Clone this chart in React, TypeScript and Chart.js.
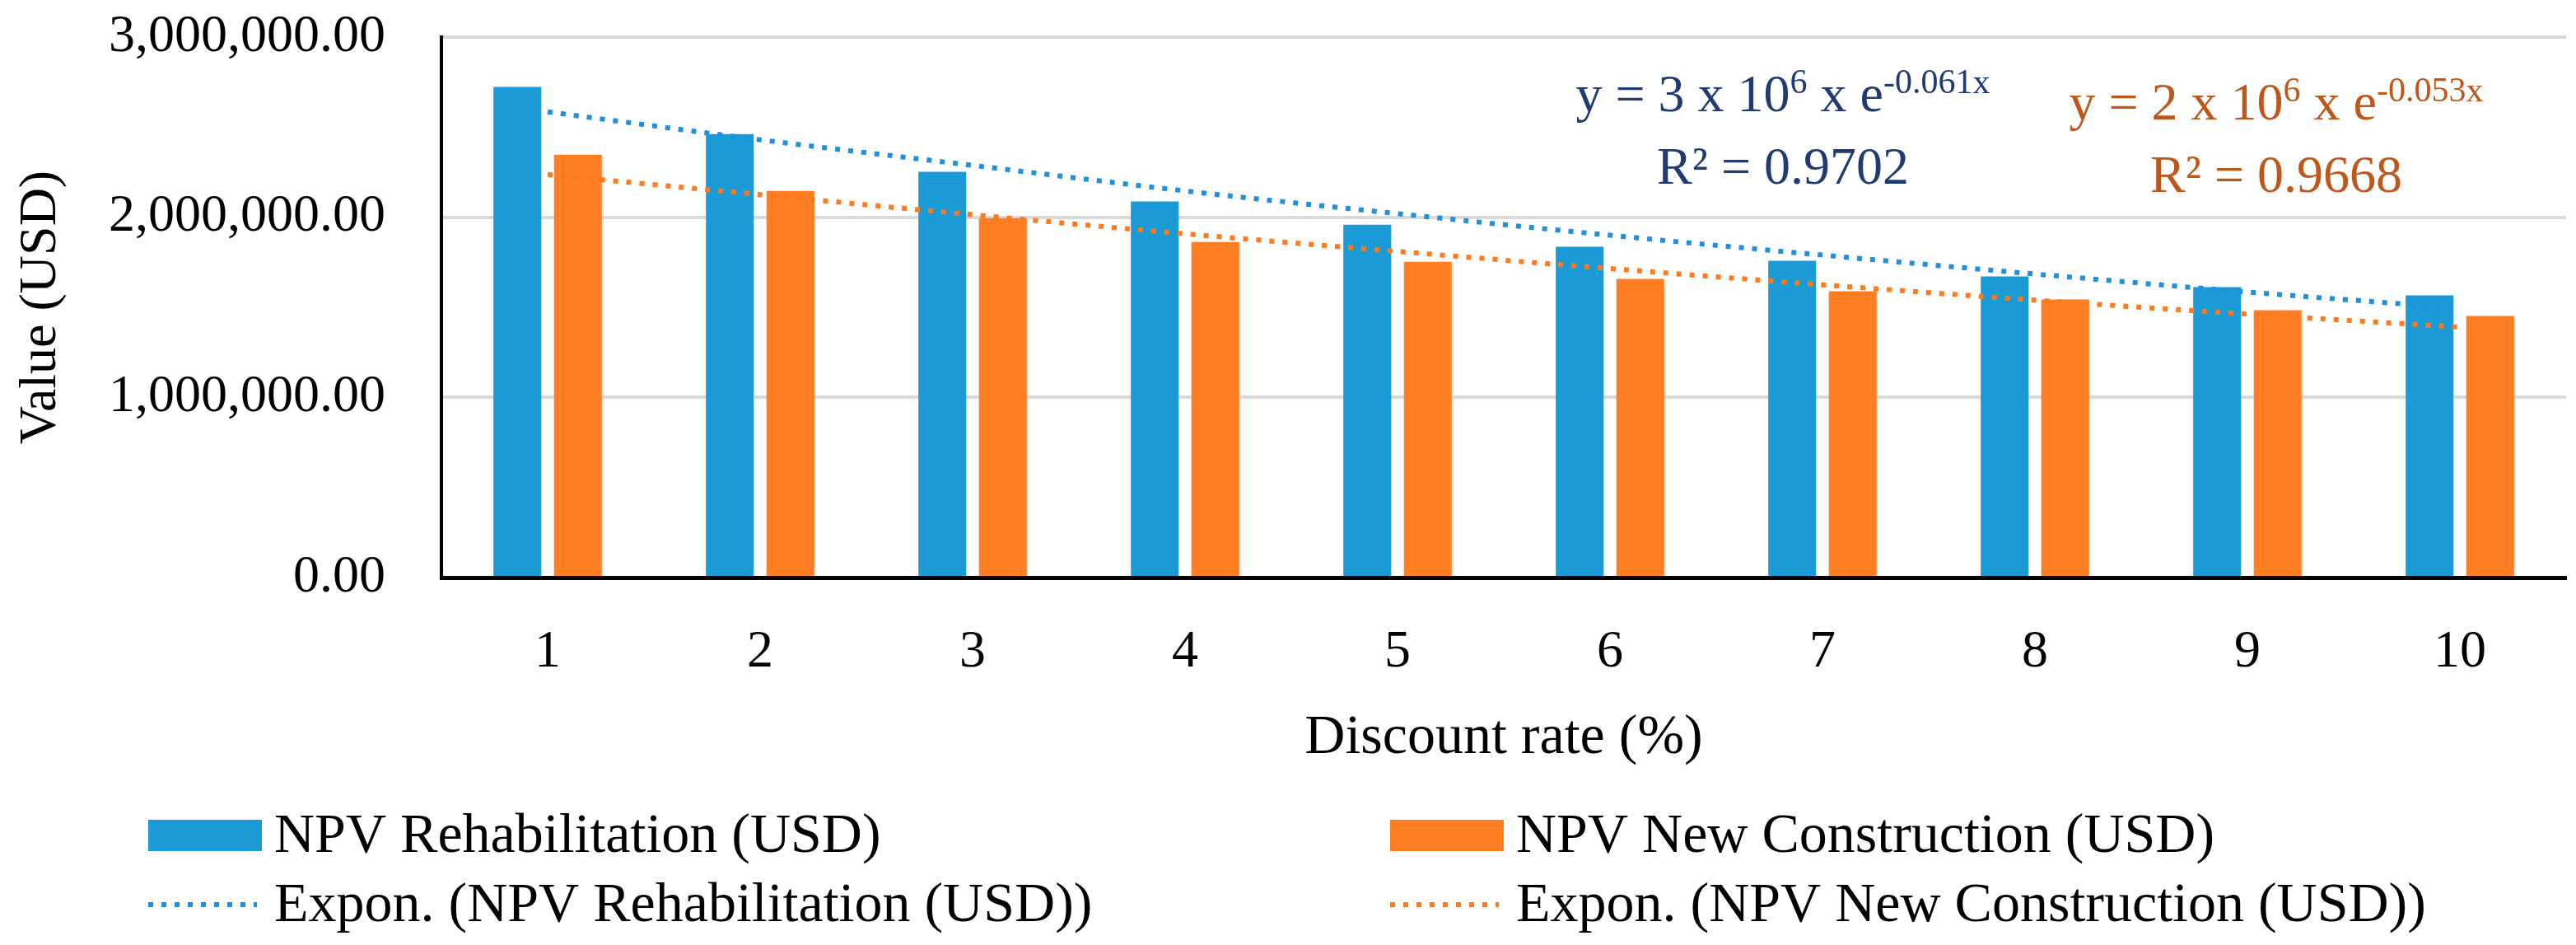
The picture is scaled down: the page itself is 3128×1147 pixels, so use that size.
import React, { useEffect, useRef } from "react";
import { Chart, registerables } from "chart.js";

Chart.register(...registerables);

// ---------- data ----------
const categories = ["1", "2", "3", "4", "5", "6", "7", "8", "9", "10"];
const npvRehabilitation = [2723000, 2461000, 2252000, 2088000, 1959000, 1836000, 1758000, 1671000, 1612000, 1566000];
const npvNewConstruction = [2347000, 2146000, 1995000, 1862000, 1753000, 1658000, 1589000, 1543000, 1484000, 1452000];
const trendRehabilitation = [2585000, 2430000, 2288000, 2146000, 2020000, 1900000, 1790000, 1685000, 1585000, 1495000];
const trendNewConstruction = [2237000, 2125000, 2014000, 1908000, 1810000, 1715000, 1625000, 1540000, 1462000, 1390000];
const yTickValues = [0, 1000000, 2000000, 3000000];
const seriesLabels = [
  "NPV Rehabilitation (USD)",
  "NPV New Construction (USD)",
  "Expon. (NPV Rehabilitation (USD))",
  "Expon. (NPV New Construction (USD))",
];
const xAxisTitle = "Discount rate (%)";
const yAxisTitle = "Value (USD)";
const rehabEquation = ["y = 3 x 10", "6", " x e", "-0.061x"];
const rehabR2 = "R² = 0.9702";
const newEquation = ["y = 2 x 10", "6", " x e", "-0.053x"];
const newR2 = "R² = 0.9668";

// ---------- styles ----------
const FONT = '"Liberation Serif", "Times New Roman", serif';
const BLUE = "#1A9BD7";
const ORANGE = "#FF7D23";
const BLUE_TREND = "#1E90DC";
const ORANGE_TREND = "#FF7A1C";
const BLUE_TEXT = "#203A74";
const ORANGE_TEXT = "#C0561A";
const DOTS = [6, 10];

const overlayPlugin = {
  id: "overlay",
  afterDraw(chart: any) {
    const ctx = chart.ctx;
    ctx.save();
    // ---- legend (2 x 2 grid) ----
    const cols = [180, 1688];
    const baselines = [1034, 1118];
    const datasets = chart.data.datasets;
    const order = [0, 1, 2, 3];
    order.forEach((dsIndex, i) => {
      const ds = datasets[dsIndex];
      const x = cols[i % 2];
      const base = baselines[Math.floor(i / 2)];
      if (ds.type === "line") {
        ctx.save();
        ctx.strokeStyle = ds.borderColor;
        ctx.lineWidth = 6;
        ctx.setLineDash(DOTS);
        ctx.beginPath();
        ctx.moveTo(x, base - 20);
        ctx.lineTo(x + 132, base - 20);
        ctx.stroke();
        ctx.restore();
      } else {
        ctx.fillStyle = ds.backgroundColor;
        ctx.fillRect(x, base - 39, 138, 38);
      }
      ctx.fillStyle = "#000";
      ctx.font = `68px ${FONT}`;
      ctx.textBaseline = "alphabetic";
      ctx.textAlign = "left";
      ctx.fillText(ds.label, x + 153, base);
    });

    // ---- trend equations ----
    const drawEq = (parts: string[], r2: string, cx: number, base: number, color: string) => {
      const main = `64px ${FONT}`;
      const sup = `42px ${FONT}`;
      const fonts = parts.map((_, i) => (i % 2 === 1 ? sup : main));
      const widths = parts.map((p, i) => {
        ctx.font = fonts[i];
        return ctx.measureText(p).width;
      });
      const total = widths.reduce((a, b) => a + b, 0);
      let x = cx - total / 2;
      ctx.fillStyle = color;
      ctx.textAlign = "left";
      ctx.textBaseline = "alphabetic";
      parts.forEach((p, i) => {
        ctx.font = fonts[i];
        ctx.fillText(p, x, i % 2 === 1 ? base - 22 : base);
        x += widths[i];
      });
      ctx.font = main;
      ctx.textAlign = "center";
      ctx.fillText(r2, cx, base + 88);
    };
    drawEq(rehabEquation, rehabR2, 2165, 135, BLUE_TEXT);
    drawEq(newEquation, newR2, 2764, 145, ORANGE_TEXT);
    ctx.restore();
  },
};

export default function App() {
  const canvasRef = useRef<HTMLCanvasElement | null>(null);

  useEffect(() => {
    document.body.style.margin = "0";
    const canvas = canvasRef.current;
    if (!canvas) return;
    const chart = new Chart(canvas, {
      type: "bar",
      data: {
        labels: categories,
        datasets: [
          {
            type: "bar",
            label: seriesLabels[0],
            data: npvRehabilitation,
            backgroundColor: BLUE,
            borderWidth: 0,
            categoryPercentage: 0.57,
            barPercentage: 0.79,
            order: 1,
          },
          {
            type: "bar",
            label: seriesLabels[1],
            data: npvNewConstruction,
            backgroundColor: ORANGE,
            borderWidth: 0,
            categoryPercentage: 0.57,
            barPercentage: 0.79,
            order: 1,
          },
          {
            type: "line",
            label: seriesLabels[2],
            data: trendRehabilitation,
            borderColor: BLUE_TREND,
            borderWidth: 6,
            borderDash: DOTS,
            pointRadius: 0,
            fill: false,
            cubicInterpolationMode: "monotone",
            order: 0,
          },
          {
            type: "line",
            label: seriesLabels[3],
            data: trendNewConstruction,
            borderColor: ORANGE_TREND,
            borderWidth: 6,
            borderDash: DOTS,
            pointRadius: 0,
            fill: false,
            cubicInterpolationMode: "monotone",
            order: 0,
          },
        ] as any,
      },
      options: {
        animation: false,
        responsive: false,
        devicePixelRatio: 1,
        layout: { padding: { top: 45, right: 12, bottom: 0, left: 0 } },
        plugins: {
          legend: { display: false },
          tooltip: { enabled: false },
          title: { display: false },
        },
        scales: {
          x: {
            grid: { display: false, drawTicks: false },
            border: { display: true, color: "#000", width: 5 },
            ticks: {
              color: "#000",
              font: { family: FONT, size: 64 },
              padding: 53,
              maxRotation: 0,
              autoSkip: false,
            },
            title: {
              display: true,
              text: xAxisTitle,
              color: "#000",
              font: { family: FONT, size: 68 },
              padding: { top: 0, bottom: 210 },
            },
            afterFit: (s: any) => {
              s.height = 446;
              s.paddingLeft = 0;
              s.paddingRight = 0;
            },
          },
          y: {
            min: yTickValues[0],
            max: yTickValues[yTickValues.length - 1],
            afterBuildTicks: (s: any) => {
              s.ticks = yTickValues.map((v) => ({ value: v }));
            },
            grid: {
              drawTicks: false,
              lineWidth: 4,
              color: (c: any) => (c.tick && c.tick.value === 0 ? "rgba(0,0,0,0)" : "#D9D9D9"),
            },
            border: { display: true, color: "#000", width: 4 },
            ticks: {
              color: "#000",
              font: { family: FONT, size: 64 },
              padding: 68,
              callback: (v: any) =>
                Number(v).toLocaleString("en-US", { minimumFractionDigits: 2, maximumFractionDigits: 2 }),
            },
            title: {
              display: true,
              text: yAxisTitle,
              color: "#000",
              font: { family: FONT, size: 64 },
              padding: { top: 12, bottom: 0 },
            },
            afterFit: (s: any) => {
              s.width = 536;
              s.paddingTop = 0;
              s.paddingBottom = 0;
            },
          },
        },
      },
      plugins: [overlayPlugin],
    });
    return () => chart.destroy();
  }, []);

  return (
    <div style={{ width: 3128, height: 1147, background: "#fff" }}>
      <canvas ref={canvasRef} width={3128} height={1147} style={{ display: "block" }} />
    </div>
  );
}
